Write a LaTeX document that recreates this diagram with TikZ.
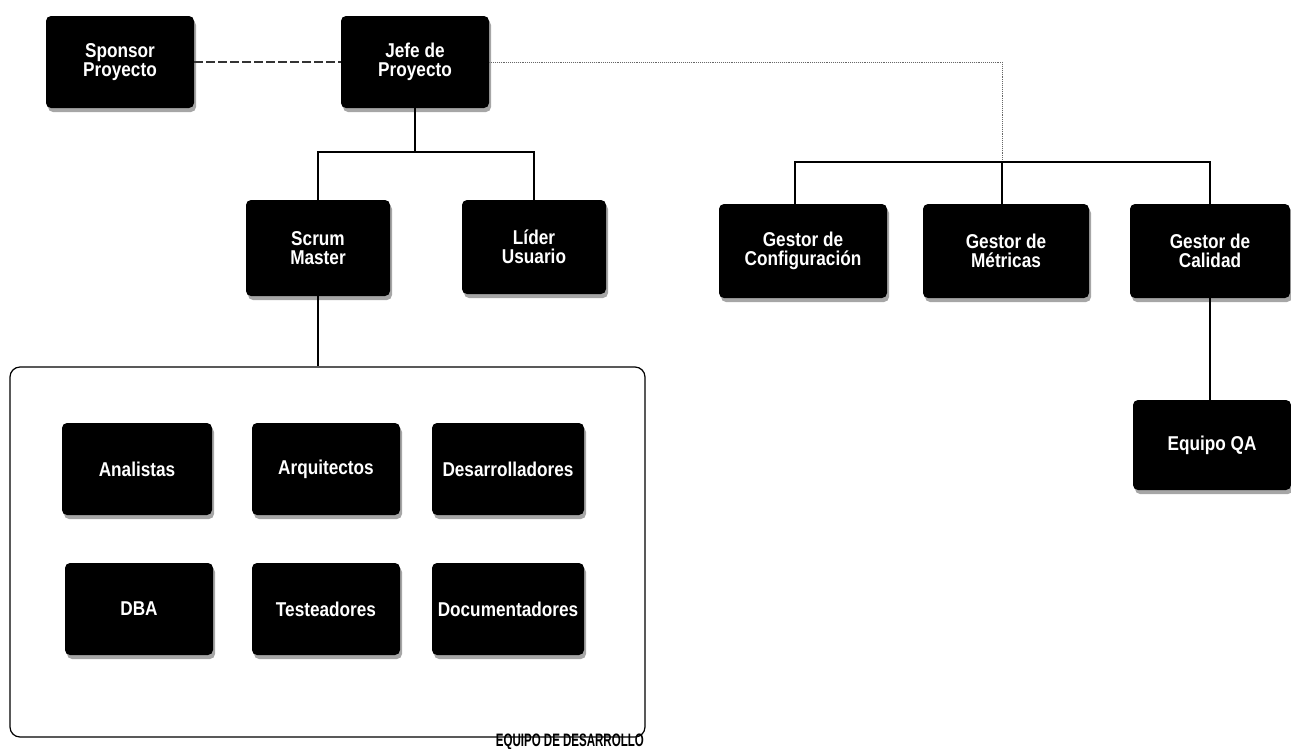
\documentclass[tikz,border=0pt]{standalone}
\usepackage{fontspec}
\setmainfont{Liberation Sans}
\newfontfamily\boxfont[FakeStretch=0.86]{Liberation Sans}
\newfontfamily\narrowfont[FakeStretch=0.64]{Liberation Sans}
\usetikzlibrary{shadows}
\begin{document}
\begin{tikzpicture}[x=1pt,y=-1pt,
  role/.style={fill=black, text=white, rounded corners=5pt, align=center,
    inner sep=0pt, font=\boxfont\bfseries\fontsize{20}{18.5}\selectfont,
    drop shadow={shadow xshift=2pt, shadow yshift=-4pt, fill=black!35, opacity=1}},
  link/.style={line width=1.4pt, black},
  dashlink/.style={line width=1.1pt, black!80, dash pattern=on 9pt off 3pt},
  dotlink/.style={line width=0.9pt, black!60, densely dotted}]
\useasboundingbox (0,0) rectangle (1291,748);

% top level
\node[role, minimum width=148pt, minimum height=92pt] (sponsor) at (120,62) {Sponsor\\Proyecto};
\node[role, minimum width=148pt, minimum height=92pt] (jefe) at (415,62) {Jefe de\\Proyecto};

% second level under the project lead
\node[role, minimum width=144pt, minimum height=96pt] (scrum) at (318,248) {Scrum\\Master};
\node[role, minimum width=144pt, minimum height=94pt] (lider) at (534,247) {Líder\\Usuario};

% management roles
\node[role, minimum width=168pt, minimum height=94pt] (conf) at (803,251) {Gestor de\\Configuración};
\node[role, minimum width=166pt, minimum height=94pt] (metr) at (1006,251) {Gestor de\\Métricas};
\node[role, minimum width=160pt, minimum height=94pt] (cal) at (1210,251) {Gestor de\\Calidad};
\node[role, minimum width=158pt, minimum height=90pt] (qa) at (1212,445) {Equipo QA};

% development team container
\node[draw=black, line width=1.2pt, rounded corners=10pt, minimum width=635pt,
  minimum height=370pt, inner sep=0pt] (team) at (327.5,552) {};
\node[anchor=base east, inner sep=0pt, font=\narrowfont\bfseries\fontsize{18}{18}\selectfont]
  (teamlabel) at (644,746) {EQUIPO DE DESARROLLO};

\node[role, minimum width=150pt, minimum height=92pt] (anal) at (137,469) {Analistas};
\node[role, minimum width=148pt, minimum height=92pt] (arq) at (326,469) {Arquitectos};
\node[role, minimum width=152pt, minimum height=92pt] (des) at (508,469) {Desarrolladores};
\node[role, minimum width=148pt, minimum height=92pt] (dba) at (139,609) {DBA};
\node[role, minimum width=148pt, minimum height=92pt] (test) at (326,609) {Testeadores};
\node[role, minimum width=152pt, minimum height=92pt] (doc) at (508,609) {Documentadores};

% junction points
\coordinate (jbar) at (415,152);
\coordinate (gL) at (795,162);
\coordinate (gM) at (1002,162);
\coordinate (gR) at (1210,162);
\coordinate (jturn) at (1002,62);

% connectors
\draw[dashlink] (sponsor.east) -- (jefe.west);
\draw[dotlink] (jefe.east) -- (jturn) -- (gM);
\draw[link] (jefe.south) -- (jbar);
\draw[link] (scrum.north) |- (jbar) -| (lider.north);
\draw[link] (gL |- conf.north) -- (gL) -- (gR) -- (gR |- cal.north);
\draw[link] (gM) -- (gM |- metr.north);
\draw[link] (scrum.south) -- (scrum.south |- team.north);
\draw[link] (cal.south -| gR) -- (gR |- qa.north);
\end{tikzpicture}
\end{document}
